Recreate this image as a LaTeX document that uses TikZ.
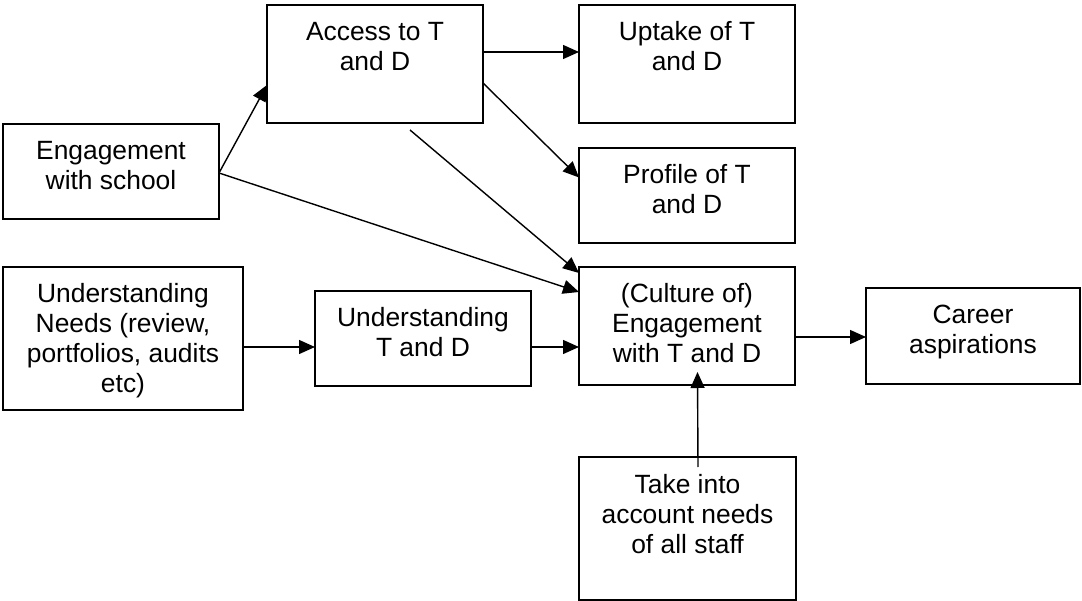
\documentclass[tikz,border=0pt]{standalone}
\usepackage{fontspec}
\setmainfont{Liberation Sans}
\usetikzlibrary{arrows.meta}
\newcommand\bxt[3]{\parbox[c][#2][t]{#1}{\centering\fontsize{26.4}{30}\selectfont\rule{0pt}{36pt}#3\par}}
\tikzset{
  box/.style={draw, line width=1.6pt, inner sep=0pt, outer sep=0pt, anchor=north west},
  conn/.style={line width=1.4pt, -{Triangle[length=16pt,width=14pt]}}
}
\begin{document}
\begin{tikzpicture}[x=1pt,y=-1pt]
\useasboundingbox (0,0) rectangle (1082,601);
\node[box] (access)  at (267,5)   {\bxt{216pt}{118pt}{Access to T\\and D}};
\node[box] (uptake)  at (579,5)   {\bxt{216pt}{118pt}{Uptake of T\\and D}};
\node[box] (eng)     at (3,124)   {\bxt{216pt}{95pt}{Engagement\\with school}};
\node[box] (profile) at (579,148) {\bxt{216pt}{95pt}{Profile of T\\and D}};
\node[box] (needs)   at (3,267)   {\bxt{240pt}{143pt}{Understanding\\Needs (review,\\portfolios, audits\\etc)}};
\node[box] (utd)     at (315,291) {\bxt{216pt}{95pt}{Understanding\\T and D}};
\node[box] (culture) at (579,267) {\bxt{216pt}{118pt}{(Culture of)\\Engagement\\with T and D}};
\node[box] (career)  at (866,288) {\bxt{214pt}{96pt}{Career\\aspirations}};
\node[box] (take)    at (579,457) {\bxt{217pt}{143pt}{Take into\\account needs\\of all staff}};

\draw[conn] ([yshift=-1.5pt]eng.east) -- ([yshift=-21pt]access.west);
\draw[conn] ([yshift=12pt]access.east) -- ([yshift=12pt]uptake.west);
\draw[conn] ([yshift=-19pt]access.east) -- ([yshift=18pt]profile.west);
\draw[conn] ([xshift=35pt,yshift=-7pt]access.south) -- ([yshift=53pt]culture.west);
\draw[conn] ([yshift=-1.5pt]eng.east) -- ([yshift=34pt]culture.west);
\draw[conn] ([yshift=-8.5pt]needs.east) -- ([yshift=-8.5pt]utd.west);
\draw[conn] ([yshift=-8.5pt]utd.east) -- ([yshift=-21pt]culture.west);
\draw[conn] ([yshift=-11pt]culture.east) -- ([yshift=-1pt]career.west);
\draw[conn] ([xshift=10.5pt,yshift=-10pt]take.north) -- ([xshift=10.5pt,yshift=13pt]culture.south);
\end{tikzpicture}
\end{document}
